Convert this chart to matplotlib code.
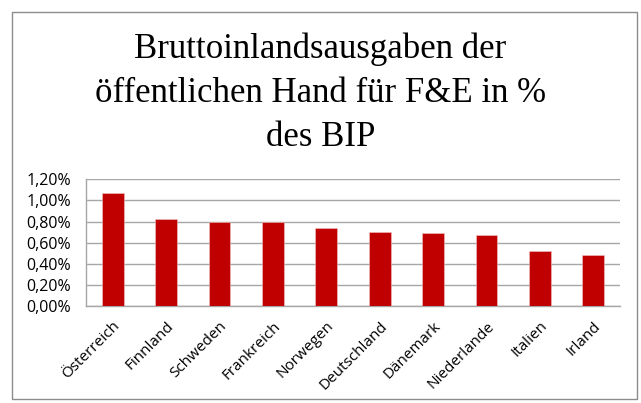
import numpy as np
import matplotlib.pyplot as plt
from matplotlib.patches import Rectangle
from matplotlib.ticker import FuncFormatter

# Data
countries = ["Österreich", "Finnland", "Schweden", "Frankreich", "Norwegen",
             "Deutschland", "Dänemark", "Niederlande", "Italien", "Irland"]
values = [1.07, 0.82, 0.80, 0.80, 0.74, 0.70, 0.69, 0.67, 0.52, 0.48]  # % des BIP
yticks = [0.0, 0.2, 0.4, 0.6, 0.8, 1.0, 1.2]
title_lines = ["Bruttoinlandsausgaben der",
               "öffentlichen Hand für F&E in %",
               "des BIP"]

BAR_COLOR = "#C00000"
GRID_COLOR = "#A6A6A6"

W, H = 641, 403
fig = plt.figure(figsize=(W / 100, H / 100), dpi=100)

# outer chart border
fig.patches.append(Rectangle((12 / W, 1 - 399 / H), 625 / W, 387 / H,
                             transform=fig.transFigure, fill=False,
                             edgecolor="#8C8C8C", linewidth=1.0))

# title, one line at a time (baselines in px from top)
for line, base in zip(title_lines, [58, 102.5, 146.5]):
    fig.text(0.5, 1 - base / H, line, ha="center", va="baseline",
             family="Liberation Serif", fontsize=25, color="black")

ax = fig.add_axes([86 / W, 1 - 306 / H, 534 / W, 126.7 / H])

x = np.arange(len(countries))
ax.bar(x, values, width=0.41, color=BAR_COLOR, edgecolor="#F2C4C4",
       linewidth=0.4, zorder=3)

ax.set_xlim(-0.5, len(countries) - 0.5)
ax.set_ylim(0, 1.2)
ax.set_yticks(yticks)
ax.yaxis.set_major_formatter(FuncFormatter(lambda v, p: f"{v:.2f}%".replace(".", ",")))
ax.grid(axis="y", color=GRID_COLOR, linewidth=1.0, zorder=0)

ax.set_xticks(x)
ax.set_xticklabels(countries, rotation=45, ha="right", rotation_mode="anchor")

for s in ["top", "right"]:
    ax.spines[s].set_visible(False)
for s in ["left", "bottom"]:
    ax.spines[s].set_color(GRID_COLOR)
    ax.spines[s].set_linewidth(1.0)

ax.tick_params(axis="both", length=0, colors="black")
ax.tick_params(axis="y", pad=11, labelsize=11.5)
ax.tick_params(axis="x", pad=9, labelsize=11)
for lbl in ax.get_xticklabels() + ax.get_yticklabels():
    lbl.set_family("Open Sans")

fig.savefig("out.png", dpi=100)
